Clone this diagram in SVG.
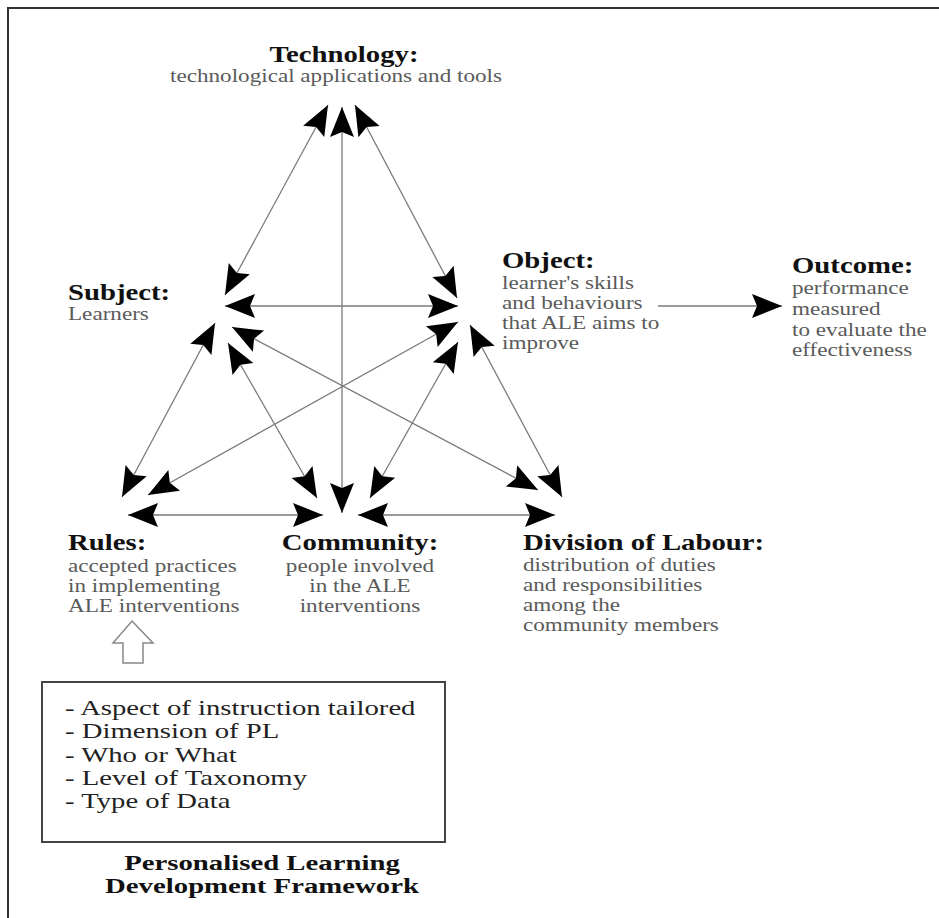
<svg xmlns="http://www.w3.org/2000/svg" width="939" height="918" viewBox="0 0 939 918">
<style>
.b{font-family:"Liberation Serif","Times New Roman",serif;font-weight:bold;font-size:23px;fill:#111}
.t{font-family:"Liberation Serif","Times New Roman",serif;font-weight:bold;font-size:21px;fill:#111;text-anchor:middle}
.g{font-family:"Liberation Serif","Times New Roman",serif;font-size:18.5px;fill:#5a5a5a}
.k{font-family:"Liberation Serif","Times New Roman",serif;font-size:20.5px;fill:#222}
.m{text-anchor:middle}
.c{stroke:#7a7a7a;stroke-width:1.3;fill:none;marker-start:url(#ah);marker-end:url(#ah)}
</style>
<defs>
<marker id="ah" markerUnits="userSpaceOnUse" viewBox="-32 -13 34 26" refX="0" refY="0" markerWidth="34" markerHeight="26" orient="auto-start-reverse">
<path d="M0,0 L-30,-12 L-25,0 L-30,12 Z" fill="#000"/>
</marker>
<marker id="ah1" markerUnits="userSpaceOnUse" viewBox="-32 -13 34 26" refX="0" refY="0" markerWidth="34" markerHeight="26" orient="auto">
<path d="M0,0 L-30,-12 L-25,0 L-30,12 Z" fill="#000"/>
</marker>
</defs>
<rect width="939" height="918" fill="#fff"/>
<rect x="8" y="8" width="940" height="920" fill="none" stroke="#333" stroke-width="2"/>
<g id="connectors">
<line class="c" x1="328" y1="105" x2="225" y2="295"/>
<line class="c" x1="342" y1="107" x2="342" y2="513"/>
<line class="c" x1="355" y1="105" x2="457" y2="298"/>
<line class="c" x1="225" y1="306" x2="458" y2="306"/>
<line class="c" x1="215" y1="323" x2="122" y2="497"/>
<line class="c" x1="228" y1="343" x2="317" y2="498"/>
<line class="c" x1="232" y1="327" x2="538" y2="490"/>
<line class="c" x1="458" y1="322" x2="148" y2="495"/>
<line class="c" x1="458" y1="342" x2="370" y2="498"/>
<line class="c" x1="470" y1="325" x2="562" y2="497"/>
<line class="c" x1="128" y1="515" x2="323" y2="515"/>
<line class="c" x1="358" y1="515" x2="555" y2="515"/>
<line x1="658" y1="306" x2="782" y2="306" stroke="#7a7a7a" stroke-width="1.3" marker-end="url(#ah1)"/>
<path d="M132,621 L153,643 L143,643 L143,663 L123,663 L123,643 L113,643 Z" fill="#fff" stroke="#888" stroke-width="1.5"/>
</g>
<g id="technology">
<text class="b m" transform="translate(344,62) scale(1.25,1)">Technology:</text>
<text class="g m" transform="translate(336,82) scale(1.25,1)">technological applications and tools</text>
</g>
<g id="subject">
<text class="b" transform="translate(68,300) scale(1.25,1)">Subject:</text>
<text class="g" transform="translate(68,320) scale(1.25,1)">Learners</text>
</g>
<g id="object">
<text class="b" transform="translate(502,268) scale(1.25,1)">Object:</text>
<text class="g" transform="translate(502,289) scale(1.25,1)">learner's skills</text>
<text class="g" transform="translate(502,309) scale(1.25,1)">and behaviours</text>
<text class="g" transform="translate(502,329) scale(1.25,1)">that ALE aims to</text>
<text class="g" transform="translate(502,349) scale(1.25,1)">improve</text>
</g>
<g id="outcome">
<text class="b" transform="translate(792,273) scale(1.25,1)">Outcome:</text>
<text class="g" transform="translate(792,294) scale(1.25,1)">performance</text>
<text class="g" transform="translate(792,315) scale(1.25,1)">measured</text>
<text class="g" transform="translate(792,336) scale(1.25,1)">to evaluate the</text>
<text class="g" transform="translate(792,356) scale(1.25,1)">effectiveness</text>
</g>
<g id="rules">
<text class="b" transform="translate(68,550) scale(1.25,1)">Rules:</text>
<text class="g" transform="translate(68,572) scale(1.25,1)">accepted practices</text>
<text class="g" transform="translate(68,592) scale(1.25,1)">in implementing</text>
<text class="g" transform="translate(68,612) scale(1.25,1)">ALE interventions</text>
</g>
<g id="community">
<text class="b m" transform="translate(360,550) scale(1.25,1)">Community:</text>
<text class="g m" transform="translate(360,572) scale(1.25,1)">people involved</text>
<text class="g m" transform="translate(360,592) scale(1.25,1)">in the ALE</text>
<text class="g m" transform="translate(360,612) scale(1.25,1)">interventions</text>
</g>
<g id="division">
<text class="b" transform="translate(523,550) scale(1.25,1)">Division of Labour:</text>
<text class="g" transform="translate(523,571) scale(1.25,1)">distribution of duties</text>
<text class="g" transform="translate(523,591) scale(1.25,1)">and responsibilities</text>
<text class="g" transform="translate(523,611) scale(1.25,1)">among the</text>
<text class="g" transform="translate(523,631) scale(1.25,1)">community members</text>
</g>
<g id="pl-box">
<rect x="42" y="682" width="403" height="160" fill="none" stroke="#444" stroke-width="2"/>
<text class="k" transform="translate(65,715) scale(1.4,1)">- Aspect of instruction tailored</text>
<text class="k" transform="translate(65,738) scale(1.4,1)">- Dimension of PL</text>
<text class="k" transform="translate(65,762) scale(1.4,1)">- Who or What</text>
<text class="k" transform="translate(65,785) scale(1.4,1)">- Level of Taxonomy</text>
<text class="k" transform="translate(65,808) scale(1.4,1)">- Type of Data</text>
</g>
<g id="title">
<text class="t" transform="translate(262,870) scale(1.37,1)">Personalised Learning</text>
<text class="t" transform="translate(262,893) scale(1.37,1)">Development Framework</text>
</g>
</svg>
